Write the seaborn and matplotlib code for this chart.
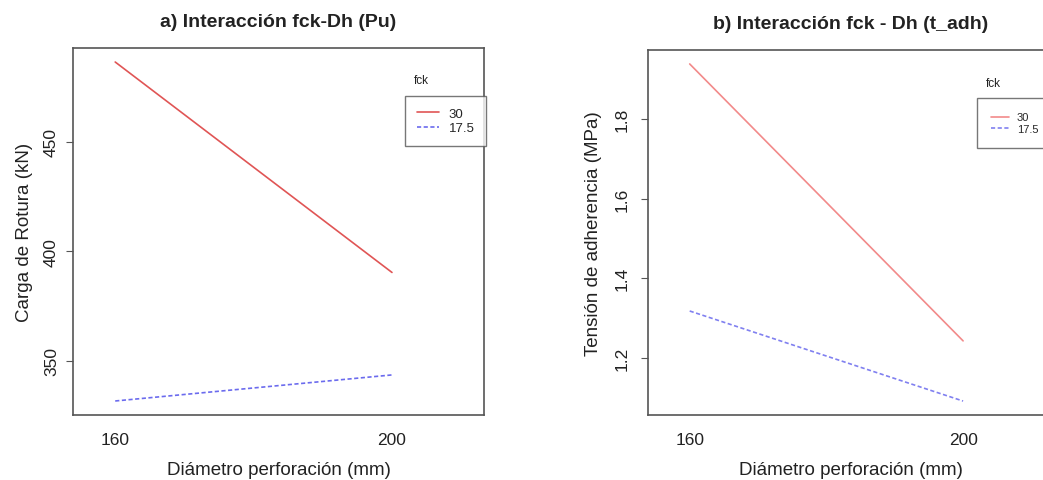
import matplotlib
matplotlib.use("Agg")
import matplotlib.pyplot as plt
import seaborn as sns
import pandas as pd
from matplotlib.lines import Line2D

# Data
diameters = [160, 200]
fck_levels = ["30", "17.5"]
pu_fck30 = [486.5, 390.4]
pu_fck175 = [331.7, 343.6]
tadh_fck30 = [1.938, 1.243]
tadh_fck175 = [1.318, 1.092]
pu_ticks = [350, 400, 450]
tadh_ticks = [1.2, 1.4, 1.6, 1.8]
x_ticks = [160, 200]

sns.set_theme(style="white")
plt.rcParams['font.family'] = ['Liberation Sans', 'DejaVu Sans']

df_pu = pd.DataFrame({
    "Dh": diameters * 2,
    "val": pu_fck30 + pu_fck175,
    "fck": [fck_levels[0]] * 2 + [fck_levels[1]] * 2,
})
df_t = pd.DataFrame({
    "Dh": diameters * 2,
    "val": tadh_fck30 + tadh_fck175,
    "fck": [fck_levels[0]] * 2 + [fck_levels[1]] * 2,
})

fig = plt.figure(figsize=(10.43, 4.81), dpi=100)
ax1 = fig.add_axes([73/1043, 65/481, 411/1043, 367/481])
ax2 = fig.add_axes([648/1043, 65/481, 406/1043, 365/481])

frame_col = "#555555"
text_col = "#222222"


def style_axes(ax, red, blue, data, yticks, ylim, title, ylabel,
               leg_pos, fck_pos, leg_fs, leg_bp, leg_ls, leg_hl, ytick_pad, ylab_pad):
    sns.lineplot(data=data, x="Dh", y="val", hue="fck", style="fck",
                 palette={fck_levels[0]: red, fck_levels[1]: blue},
                 dashes={fck_levels[0]: "", fck_levels[1]: (2.5, 1.5)},
                 linewidth=1.2, ax=ax, legend=False)
    ax.set_xlim(153.9, 213.3)
    ax.set_ylim(*ylim)
    ax.set_xticks(x_ticks)
    ax.set_xticklabels([str(v) for v in x_ticks], fontsize=12.5, color=text_col)
    ax.set_yticks(yticks)
    ax.set_yticklabels([f"{v:g}" for v in yticks], fontsize=12.5, color=text_col,
                       rotation=90, va="center")
    ax.tick_params(axis="y", left=True, length=5, width=0.8, color=frame_col, pad=ytick_pad)
    ax.tick_params(axis="x", bottom=False, pad=6)
    for s in ax.spines.values():
        s.set_color(frame_col)
        s.set_linewidth(1.2)
    ax.set_title(title, fontsize=14, fontweight="bold", color=text_col, pad=16)
    ax.set_xlabel("Diámetro perforación (mm)", fontsize=13.5, color=text_col, labelpad=10)
    ax.set_ylabel(ylabel, fontsize=13.5, color=text_col, labelpad=ylab_pad)
    handles = [Line2D([0], [0], color=red, lw=1.2),
               Line2D([0], [0], color=blue, lw=1.2, ls=(0, (2.5, 1.5)))]
    leg = ax.legend(handles, fck_levels, loc="upper left",
                    bbox_to_anchor=leg_pos, bbox_transform=fig.transFigure,
                    borderaxespad=0,
                    fontsize=leg_fs, frameon=True, fancybox=False, handlelength=leg_hl,
                    borderpad=leg_bp, labelspacing=leg_ls, handletextpad=0.7)
    leg.get_frame().set_edgecolor(frame_col)
    leg.get_frame().set_linewidth(1.0)
    fig.text(fck_pos[0], fck_pos[1], "fck", fontsize=8.5, color=text_col,
             ha="left", va="center")


style_axes(ax1, "#E05555", "#6B6BEE", df_pu, pu_ticks, (325.3, 492.9),
           "a) Interacción fck-Dh (Pu)", "Carga de Rotura (kN)",
           (405/1043, 1 - 97/481), (414/1043, 1 - 81/481), 9.5, 0.9, 0.15, 1.7, 5, 8)
style_axes(ax2, "#F28A8A", "#8080F0", df_t, tadh_ticks, (1.057, 1.973),
           "b) Interacción fck - Dh (t_adh)", "Tensión de adherencia (MPa)",
           (977/1043, 1 - 99/481), (986/1043, 1 - 84/481), 8, 1.3, 0.1, 1.6, 8, 9)

fig.savefig("out.png", dpi=100, facecolor="white")
